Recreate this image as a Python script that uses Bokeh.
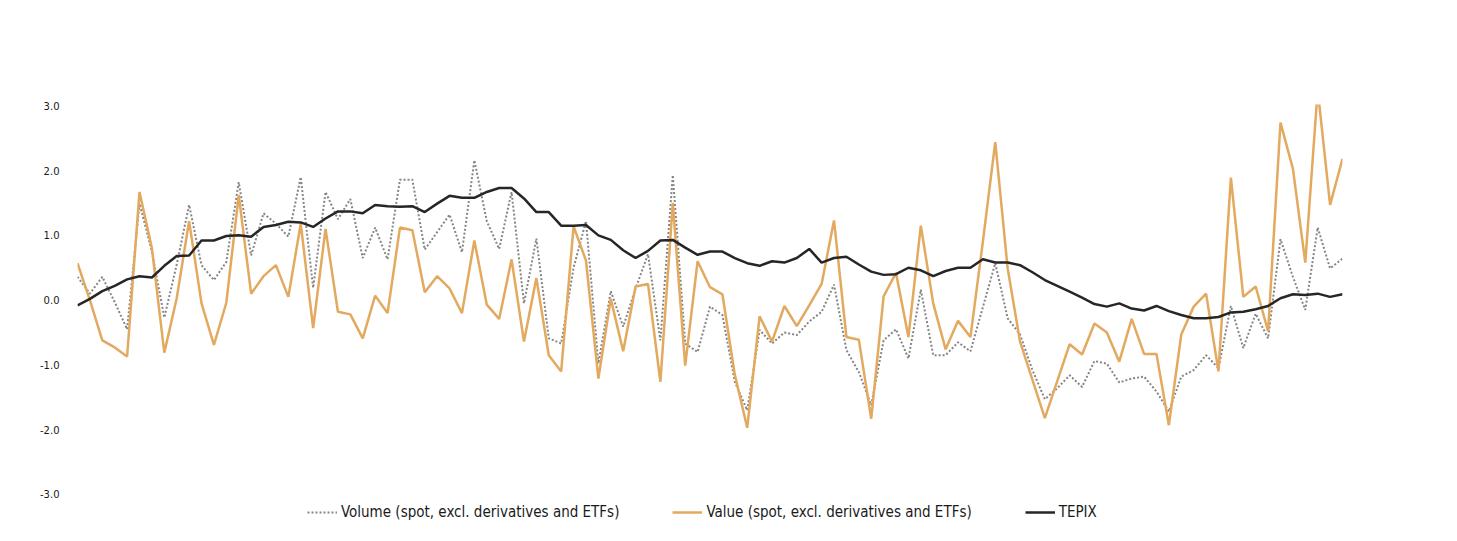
from bokeh.plotting import figure
from bokeh.models import Range1d, Legend, LegendItem, FixedTicker, PrintfTickFormatter, ColumnDataSource
from bokeh.embed import file_html
from bokeh.resources import INLINE

volume = [0.36, 0.10, 0.36, -0.03, -0.45, 1.49, 0.75, -0.27, 0.55, 1.47,
          0.54, 0.31, 0.59, 1.82, 0.69, 1.34, 1.18, 0.98, 1.90, 0.19,
          1.67, 1.25, 1.56, 0.65, 1.12, 0.63, 1.86, 1.86, 0.78, 1.05,
          1.32, 0.74, 2.16, 1.22, 0.79, 1.67, -0.05, 0.95, -0.59, -0.67,
          0.50, 1.22, -0.98, 0.14, -0.41, 0.18, 0.71, -0.62, 1.93, -0.67,
          -0.80, -0.10, -0.23, -1.26, -1.70, -0.46, -0.67, -0.50, -0.54, -0.33,
          -0.18, 0.24, -0.77, -1.11, -1.62, -0.62, -0.45, -0.90, 0.16, -0.85,
          -0.85, -0.65, -0.79, -0.11, 0.57, -0.28, -0.53, -1.08, -1.53, -1.36,
          -1.16, -1.34, -0.94, -0.98, -1.27, -1.21, -1.18, -1.41, -1.72, -1.18,
          -1.08, -0.85, -1.05, -0.09, -0.74, -0.21, -0.59, 0.94, 0.36, -0.15,
          1.12, 0.49, 0.64]

value_ = [0.57, 0.00, -0.62, -0.73, -0.87, 1.67, 0.80, -0.81, 0.03, 1.22,
          -0.05, -0.69, -0.04, 1.62, 0.10, 0.37, 0.54, 0.05, 1.18, -0.43,
          1.10, -0.18, -0.22, -0.59, 0.07, -0.20, 1.12, 1.08, 0.12, 0.37,
          0.18, -0.20, 0.92, -0.07, -0.29, 0.63, -0.64, 0.34, -0.85, -1.10,
          1.14, 0.61, -1.21, 0.02, -0.79, 0.21, 0.25, -1.26, 1.50, -1.01,
          0.60, 0.20, 0.09, -1.15, -1.97, -0.25, -0.64, -0.09, -0.40, -0.08,
          0.25, 1.23, -0.57, -0.61, -1.83, 0.06, 0.42, -0.57, 1.15, -0.05,
          -0.76, -0.32, -0.57, 0.90, 2.44, 0.49, -0.64, -1.23, -1.82, -1.25,
          -0.68, -0.84, -0.36, -0.50, -0.95, -0.29, -0.83, -0.83, -1.93, -0.53,
          -0.10, 0.10, -1.10, 1.89, 0.05, 0.21, -0.48, 2.74, 2.03, 0.58,
          3.25, 1.47, 2.18]

tepix = [-0.08, 0.02, 0.14, 0.22, 0.32, 0.37, 0.35, 0.53, 0.68, 0.69,
         0.92, 0.92, 0.99, 1.00, 0.98, 1.13, 1.16, 1.21, 1.20, 1.13,
         1.26, 1.37, 1.37, 1.34, 1.47, 1.45, 1.44, 1.45, 1.36, 1.49,
         1.61, 1.58, 1.58, 1.67, 1.73, 1.73, 1.57, 1.36, 1.36, 1.15,
         1.15, 1.16, 1.00, 0.93, 0.77, 0.65, 0.76, 0.92, 0.93, 0.81,
         0.70, 0.75, 0.75, 0.65, 0.57, 0.53, 0.60, 0.58, 0.65, 0.79,
         0.58, 0.65, 0.67, 0.55, 0.44, 0.39, 0.40, 0.50, 0.46, 0.37,
         0.45, 0.50, 0.50, 0.63, 0.58, 0.58, 0.54, 0.43, 0.31, 0.22,
         0.13, 0.04, -0.06, -0.10, -0.05, -0.13, -0.16, -0.09, -0.17, -0.23,
         -0.28, -0.28, -0.26, -0.19, -0.18, -0.14, -0.09, 0.03, 0.09, 0.08,
         0.10, 0.05, 0.09]

periods = list(range(len(tepix)))
y_ticks = [-3.0, -2.0, -1.0, 0.0, 1.0, 2.0, 3.0]

labels = ["Volume (spot, excl. derivatives and ETFs)",
          "Value (spot, excl. derivatives and ETFs)",
          "TEPIX"]

src = ColumnDataSource(dict(x=periods, vol=volume, val=value_, tep=tepix))

# frame extends below -3.0 so that the legend sits inside it, under the lines
p = figure(frame_width=1265, frame_height=426, output_backend="svg",
           toolbar_location=None,
           x_range=Range1d(0, len(periods) - 1), y_range=Range1d(-3.556, 3.02),
           min_border_left=77, min_border_right=107, min_border_top=104,
           min_border_bottom=4)
p.outline_line_color = None
p.xgrid.visible = False
p.ygrid.visible = False
p.xaxis.visible = False

ax = p.yaxis[0]
ax.ticker = FixedTicker(ticks=y_ticks)
ax.formatter = PrintfTickFormatter(format="%.1f")
ax.axis_line_color = None
ax.major_tick_line_color = None
ax.minor_tick_line_color = None
ax.major_tick_out = 0
ax.major_tick_in = 0
ax.major_label_standoff = 18
ax.major_label_text_font = "DejaVu Sans"
ax.major_label_text_font_size = "10px"
ax.major_label_text_color = "#1a1a1a"

r_vol = p.line("x", "vol", source=src, line_color="#858585", line_width=2,
               line_dash="2 2")
r_val = p.line("x", "val", source=src, line_color="#e2a95f", line_width=2.5)
r_tep = p.line("x", "tep", source=src, line_color="#262626", line_width=2.5)

legend = Legend(items=[LegendItem(label=labels[0], renderers=[r_vol]),
                       LegendItem(label=labels[1], renderers=[r_val]),
                       LegendItem(label=labels[2], renderers=[r_tep])],
                orientation="horizontal", location=(230, 8),
                border_line_color=None, background_fill_alpha=0,
                padding=0, margin=0, spacing=53, glyph_width=30,
                label_standoff=4, label_text_font="DejaVu Sans Condensed",
                label_text_font_size="15px", label_text_color="#1a1a1a",
                glyph_height=20, label_height=20)
p.add_layout(legend, "center")

open("out.html", "w").write(file_html(p, INLINE))
